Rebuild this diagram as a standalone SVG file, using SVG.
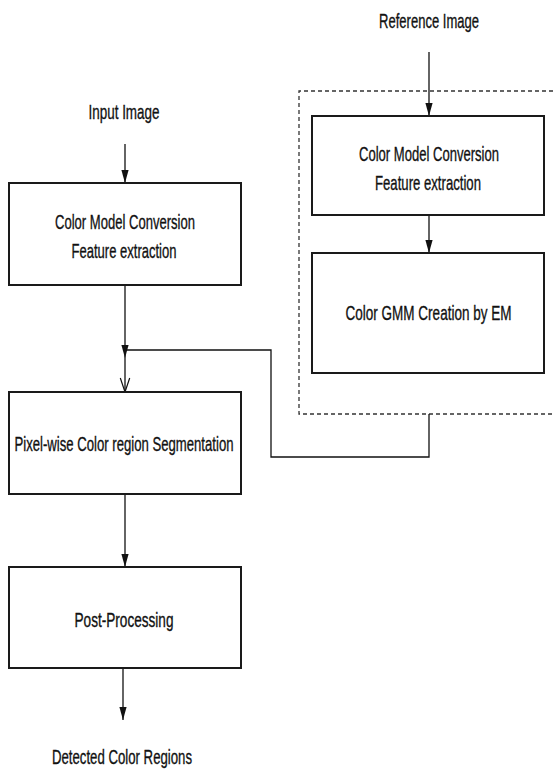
<svg xmlns="http://www.w3.org/2000/svg" width="553" height="771" viewBox="0 0 553 771">
<style>
.box{fill:#fff;stroke:#1a1a1a;stroke-width:2}
.lbl{font-family:"Liberation Sans",Arial,sans-serif;font-size:15px;fill:#111;stroke:#111;stroke-width:0.25;text-anchor:middle}
.con{fill:none;stroke:#111;stroke-width:1.3}
.dash{fill:none;stroke:#333;stroke-width:1.3;stroke-dasharray:4 3}
</style>
<defs>
<marker id="af" viewBox="0 -4 13 8" refX="13" refY="0" markerWidth="13" markerHeight="8" markerUnits="userSpaceOnUse" orient="auto">
<path d="M0,-3.6 L13,0 L0,3.6 z" fill="#111"/>
</marker>
<marker id="ao" viewBox="-1 -6 16 12" refX="14" refY="0" markerWidth="16" markerHeight="12" markerUnits="userSpaceOnUse" orient="auto">
<path d="M0,-4.7 L14,0 L0,4.7" fill="none" stroke="#111" stroke-width="1.2"/>
</marker>
</defs>
<rect width="553" height="771" fill="#fff"/>

<g id="group-reference">
<path d="M553,91 H299 V414 H553" class="dash"/>
</g>

<g id="connectors">
<line x1="125" y1="144" x2="125" y2="183" class="con" marker-end="url(#af)"/>
<line x1="125" y1="285" x2="125" y2="358" class="con" marker-end="url(#af)"/>
<line x1="125" y1="358" x2="125" y2="392" class="con" marker-end="url(#ao)"/>
<polyline points="429,414 429,457 271,457 271,350 127,350" class="con"/>
<line x1="125" y1="494" x2="125" y2="567" class="con" marker-end="url(#af)"/>
<line x1="123" y1="668" x2="123" y2="720" class="con" marker-end="url(#af)"/>
<line x1="429" y1="52" x2="429" y2="116" class="con" marker-end="url(#af)"/>
<line x1="429" y1="215" x2="429" y2="253" class="con" marker-end="url(#af)"/>
</g>

<g id="input-label">
<text transform="translate(124,119) scale(1,1.4)" class="lbl" textLength="71" lengthAdjust="spacingAndGlyphs">Input Image</text>
</g>
<g id="reference-label">
<text transform="translate(429,28) scale(1,1.4)" class="lbl" textLength="100" lengthAdjust="spacingAndGlyphs">Reference Image</text>
</g>

<g id="node-color-conversion">
<rect x="9" y="183" width="232" height="102" class="box"/>
<text transform="translate(125,229) scale(1,1.4)" class="lbl" textLength="140" lengthAdjust="spacingAndGlyphs">Color Model Conversion</text>
<text transform="translate(124,258) scale(1,1.4)" class="lbl" textLength="105" lengthAdjust="spacingAndGlyphs">Feature extraction</text>
</g>

<g id="node-segmentation">
<rect x="9" y="392" width="232" height="102" class="box"/>
<text transform="translate(124,451) scale(1,1.4)" class="lbl" textLength="219" lengthAdjust="spacingAndGlyphs">Pixel-wise Color region Segmentation</text>
</g>

<g id="node-post-processing">
<rect x="9" y="567" width="232" height="101" class="box"/>
<text transform="translate(124,627) scale(1,1.4)" class="lbl" textLength="99" lengthAdjust="spacingAndGlyphs">Post-Processing</text>
</g>

<g id="output-label">
<text transform="translate(122,764) scale(1,1.4)" class="lbl" textLength="140" lengthAdjust="spacingAndGlyphs">Detected Color Regions</text>
</g>

<g id="node-ref-color-conversion">
<rect x="312" y="116" width="232" height="99" class="box"/>
<text transform="translate(429,161) scale(1,1.4)" class="lbl" textLength="140" lengthAdjust="spacingAndGlyphs">Color Model Conversion</text>
<text transform="translate(428,190) scale(1,1.4)" class="lbl" textLength="106" lengthAdjust="spacingAndGlyphs">Feature extraction</text>
</g>

<g id="node-gmm">
<rect x="312" y="253" width="232" height="120" class="box"/>
<text transform="translate(428.5,320) scale(1,1.4)" class="lbl" textLength="166" lengthAdjust="spacingAndGlyphs">Color  GMM  Creation by EM</text>
</g>
</svg>
